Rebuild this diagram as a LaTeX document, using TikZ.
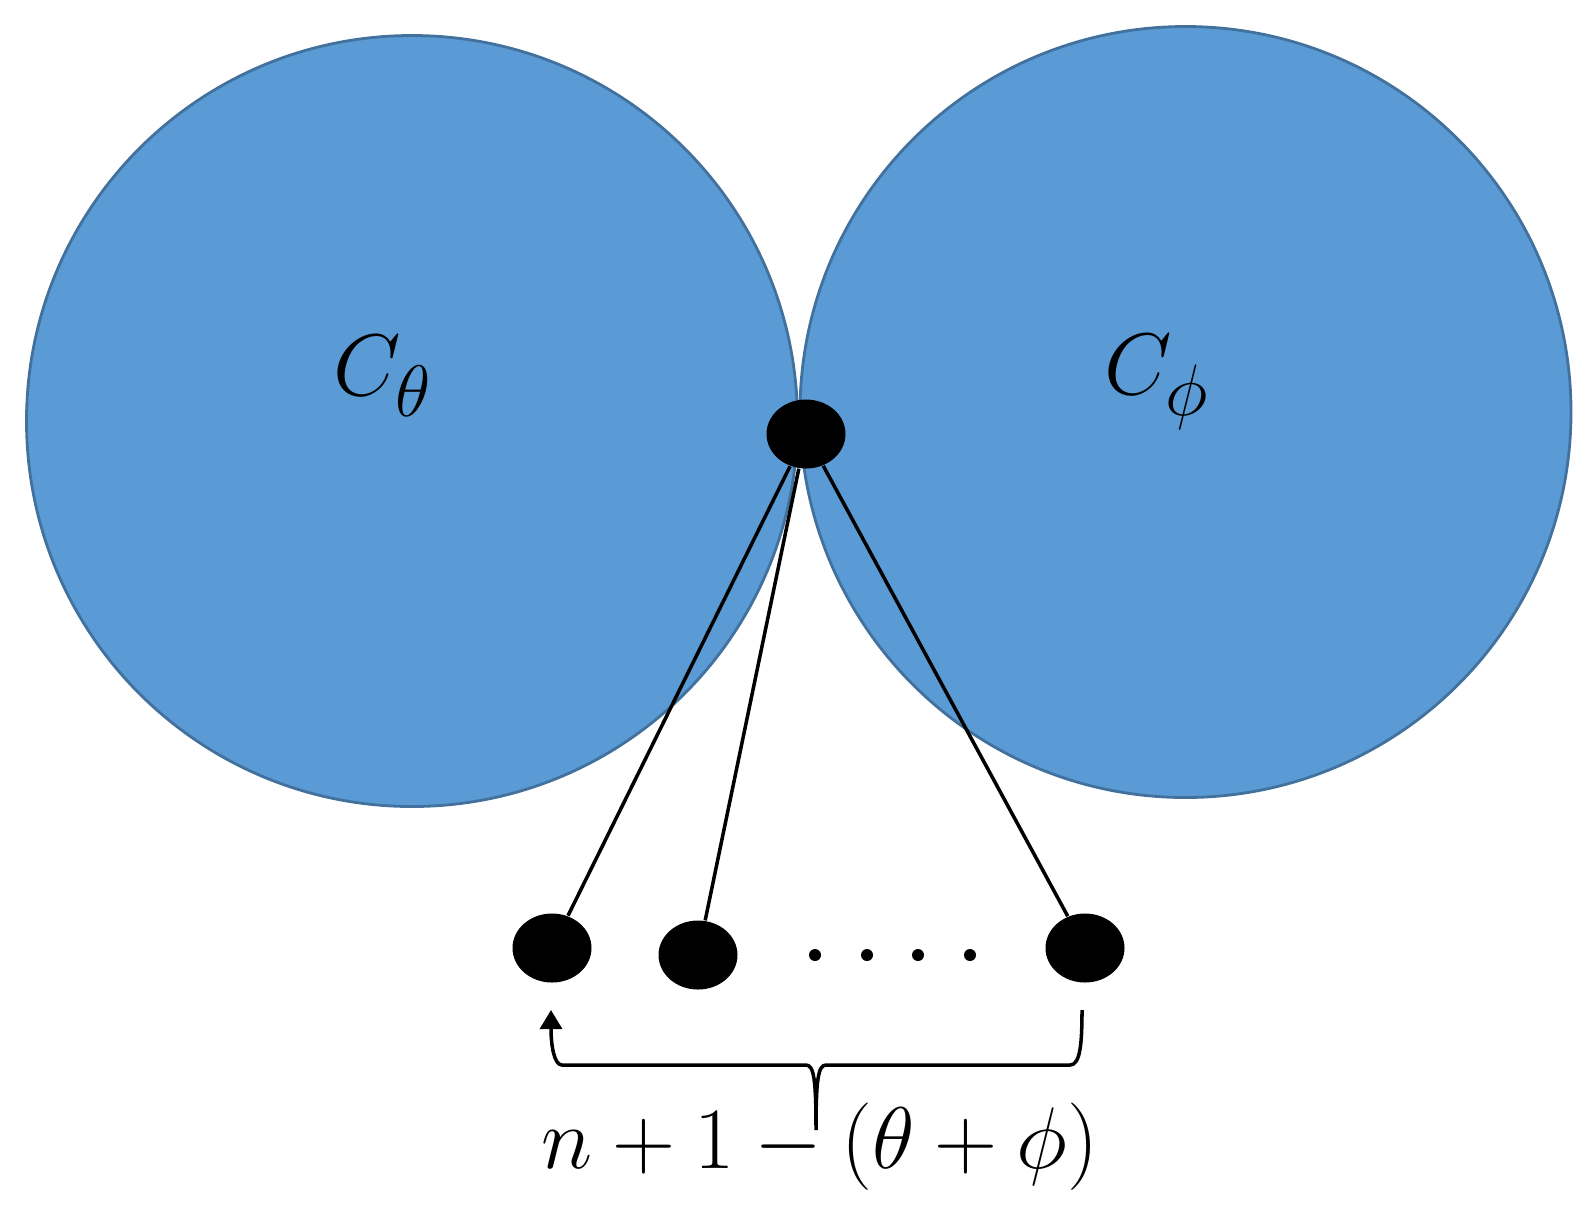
\documentclass[tikz,border=0pt]{standalone}
\usepackage{amsmath}
\usetikzlibrary{arrows.meta}
\usetikzlibrary{positioning, shapes}

\definecolor{ballfill}{HTML}{5B9BD5}
\definecolor{balledge}{HTML}{41719C}

\begin{document}
\begin{tikzpicture}[>=Triangle,
    ball/.style={circle, draw=balledge, fill=ballfill, line width=0.8pt, minimum size=7.71cm, inner sep=0pt},
    vertex/.style={ellipse, fill=black, minimum width=0.79cm, minimum height=0.69cm, inner sep=0pt},
    smalldot/.style={circle, fill=black, minimum size=0.12cm, inner sep=0pt},
    edge/.style={line width=1pt},
    bigmath/.style={font=\fontsize{24.88}{30}\selectfont}]

\useasboundingbox (0,0) rectangle (15.94,-12.17);

% the two balls
\node[ball] (Ctheta) at (4.12,-4.21) {};
\node[ball] (Cphi) at (11.855,-4.12) {};

\node[bigmath] (Lthetalbl) at (3.83,-3.76) {$C_\theta$};
\node[bigmath] (Lphilbl) at (11.57,-3.82) {$C_\phi$};

% shared vertex and the outside vertices
\node[vertex] (cut) at (8.06,-4.34) {};
\node[vertex] (vone) at (5.52,-9.48) {};
\node[vertex] (vtwo) at (6.98,-9.55) {};
\node[vertex] (vlast) at (10.85,-9.48) {};

\foreach \x [count=\i] in {8.15, 8.67, 9.18, 9.70}
  \node[smalldot] (gap\i) at (\x,-9.55) {};

\draw[edge] (cut) -- (vone);
\draw[edge] (cut) -- (vtwo);
\draw[edge] (cut) -- (vlast);

% brace under the outside vertices
\coordinate (brR) at (10.82,-10.10);
\coordinate (brL) at (5.51,-10.10);
\coordinate (brtip) at (8.16,-11.30);

\draw[edge, ->] (brR) .. controls (10.82,-10.45) and (10.80,-10.65) .. (10.70,-10.65)
  -- (8.26,-10.65) .. controls (8.18,-10.65) and (8.16,-10.80) .. (brtip)
  .. controls (8.16,-10.80) and (8.14,-10.65) .. (8.06,-10.65)
  -- (5.62,-10.65) .. controls (5.54,-10.65) and (5.51,-10.45) .. (brL);

\node[bigmath] (count) at (8.20,-11.465) {$n+1-(\theta+\phi)$};

\end{tikzpicture}
\end{document}
